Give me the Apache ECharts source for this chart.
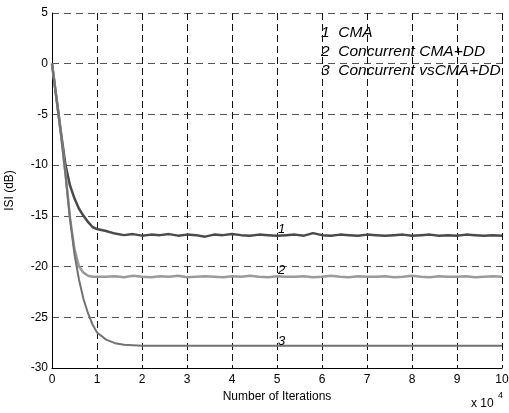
<!DOCTYPE html>
<html>
<head>
<meta charset="utf-8">
<script src="https://cdn.jsdelivr.net/npm/echarts@6/dist/echarts.min.js"></script>
<style>
  html, body { margin: 0; padding: 0; background: #fff; }
  #chart { width: 509px; height: 413px; }
</style>
</head>
<body>
<div id="chart"></div>
<script>
// iterations, in units of 10^4
const iterations = [
  0, 0.1, 0.2, 0.3, 0.4, 0.5, 0.6, 0.7, 0.8, 0.9, 1.0,
  1.2, 1.4, 1.6, 1.8, 2.0, 2.2, 2.4, 2.6, 2.8,
  3.0, 3.2, 3.4, 3.6, 3.8, 4.0, 4.2, 4.4, 4.6,
  4.8, 5.0, 5.2, 5.4, 5.6, 5.8, 6.0, 6.2, 6.4,
  6.6, 6.8, 7.0, 7.2, 7.4, 7.6, 7.8, 8.0, 8.2,
  8.4, 8.6, 8.8, 9.0, 9.2, 9.4, 9.6, 9.8, 10.0
]

// 1 CMA
const isiCMA = [
  0, -3.4, -6.8, -10.0, -12.0, -13.3, -14.3, -15.0, -15.6, -16.1, -16.3,
  -16.5, -16.75, -16.9, -16.8, -16.95, -16.85, -16.9, -16.8, -16.95,
  -16.85, -16.9, -17.05, -16.85, -16.9, -16.8, -16.9, -16.95, -16.85,
  -16.9, -16.95, -16.9, -16.85, -16.95, -16.7, -16.9, -16.95, -16.85,
  -16.9, -16.95, -16.85, -16.9, -16.95, -16.9, -16.85, -16.95, -16.9,
  -16.85, -16.95, -16.9, -16.95, -16.85, -16.9, -16.95, -16.9, -16.95
]

// 2 Concurrent CMA+DD
const isiConcurrent = [
  0, -3.5, -7.0, -10.8, -15.2, -18.3, -20.0, -20.6, -20.9, -21.0, -21.0,
  -21.0, -20.95, -21.05, -20.9, -21.0, -21.05, -20.95, -21.0, -20.9,
  -21.05, -21.0, -20.95, -21.0, -21.05, -20.95, -21.0, -20.9, -21.0,
  -21.05, -20.95, -21.0, -21.0, -20.95, -21.05, -21.0, -20.9, -21.0,
  -21.05, -20.95, -21.0, -21.0, -20.95, -21.05, -21.0, -20.9, -21.0,
  -21.05, -20.95, -21.0, -21.0, -20.95, -21.05, -21.0, -20.95, -21.0
]

// 3 Concurrent vsCMA+DD
const isiVsConcurrent = [
  0, -3.5, -7.0, -11.0, -15.3, -18.8, -21.3, -23.2, -24.6, -25.7, -26.5,
  -27.2, -27.55, -27.7, -27.75, -27.8, -27.8, -27.8, -27.8, -27.8,
  -27.8, -27.8, -27.8, -27.8, -27.8, -27.8, -27.8, -27.8, -27.8,
  -27.8, -27.8, -27.8, -27.8, -27.8, -27.8, -27.8, -27.8, -27.8,
  -27.8, -27.8, -27.8, -27.8, -27.8, -27.8, -27.8, -27.8, -27.8,
  -27.8, -27.8, -27.8, -27.8, -27.8, -27.8, -27.8, -27.8, -27.8
]

const legendLines = ['1  CMA', '2  Concurrent CMA+DD', '3  Concurrent vsCMA+DD']
const curveTags = ['1', '2', '3']
const tagPoints = [[5.1, -16.35], [5.1, -20.4], [5.1, -27.35]]

const font = "'Liberation Sans', Arial, Helvetica, sans-serif"

const chart = echarts.init(document.getElementById('chart'))

function pairs(ys) {
  return iterations.map((x, i) => [x, ys[i]])
}

function makeSeries(ys, color, width, k) {
  return {
    type: 'line',
    data: pairs(ys),
    showSymbol: false,
    symbol: 'none',
    lineStyle: { color, width },
    z: 3,
    markPoint: {
      symbol: 'circle',
      symbolSize: 0,
      silent: true,
      label: {
        show: true,
        formatter: curveTags[k],
        color: '#000',
        fontStyle: 'italic',
        fontSize: 13,
        fontFamily: font,
        position: 'inside'
      },
      data: [{ coord: tagPoints[k] }]
    }
  }
}

chart.setOption({
  animation: false,
  grid: { left: 52, right: 7, top: 13, bottom: 45, outerBoundsMode: 'none' },
  xAxis: {
    type: 'value',
    min: 0,
    max: 10,
    interval: 1,
    axisLine: { show: true, onZero: false, lineStyle: { color: '#000', width: 1 } },
    axisTick: { show: false },
    axisLabel: { color: '#000', fontSize: 12, fontFamily: font, margin: 6 },
    splitLine: { show: true, lineStyle: { color: '#111', type: [7, 4], width: 1 } },
    name: 'Number of Iterations',
    nameLocation: 'middle',
    nameGap: 23,
    nameTextStyle: { color: '#000', fontSize: 12, fontFamily: font }
  },
  yAxis: {
    type: 'value',
    min: -30,
    max: 5,
    interval: 5,
    axisLine: { show: true, onZero: false, lineStyle: { color: '#000', width: 1 } },
    axisTick: { show: false },
    axisLabel: { color: '#000', fontSize: 12, fontFamily: font, margin: 4 },
    splitLine: { show: true, lineStyle: { color: '#555', type: [7, 5], width: 1 } },
    name: 'ISI (dB)',
    nameLocation: 'middle',
    nameGap: 36,
    nameTextStyle: { color: '#000', fontSize: 12, fontFamily: font }
  },
  graphic: [
    ...legendLines.map((t, i) => ({
      type: 'text',
      left: 321,
      top: 25 + i * 19,
      style: { text: t, fill: '#000', font: 'italic 15.5px ' + font }
    })),
    {
      type: 'text',
      left: 471,
      top: 398,
      style: { text: 'x 10', fill: '#000', font: '12px ' + font }
    },
    {
      type: 'text',
      left: 498,
      top: 391,
      style: { text: '4', fill: '#000', font: '9px ' + font }
    }
  ],
  series: [
    makeSeries(isiCMA, '#4a4a4a', 2.5, 0),
    makeSeries(isiConcurrent, '#9a9a9a', 2.5, 1),
    makeSeries(isiVsConcurrent, '#727272', 2, 2)
  ]
})
</script>
</body>
</html>
